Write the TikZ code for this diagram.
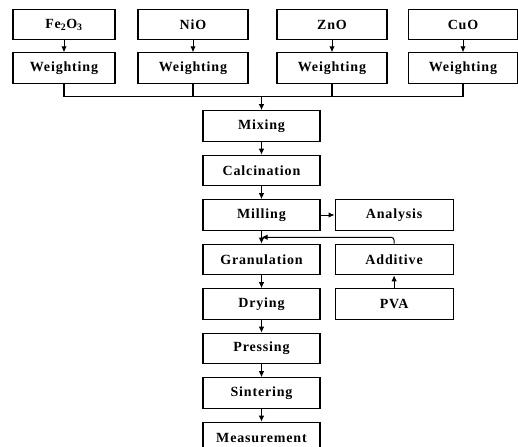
\documentclass[tikz,border=0pt]{standalone}
\usepackage{fontspec}
\setmainfont{Liberation Serif}[LetterSpace=6]
\usetikzlibrary{arrows.meta,positioning,calc}

\begin{document}
\begin{tikzpicture}[x=1pt,y=1pt,font=\bfseries\fontsize{14}{16}\selectfont, node distance=12.9pt and 14pt,
 proc/.style={draw,line width=1.1pt,minimum width=117pt,minimum height=30.5pt,inner sep=1pt},
 side/.style={proc,minimum width=118pt},
 link/.style={line width=1pt},
 >={Latex[length=6pt,width=5.5pt]}]
\useasboundingbox (0,0) rectangle (518,-446);
% raw oxides
\node[proc,minimum width=102pt] (fe) at (64,-24.5) {Fe\textsubscript{2}O\textsubscript{3}};
\node[proc,minimum width=110pt] (ni) at (193,-24.5) {NiO};
\node[proc,minimum width=110pt] (zn) at (332,-24.5) {ZnO};
\node[proc,minimum width=109pt] (cu) at (463,-24.5) {CuO};
\foreach \m/\w in {fe/102,ni/110,zn/110,cu/109}{
 \node[proc,minimum width=\w pt,below=12pt of \m] (w\m) {Weighting};
 \draw[link,->] (\m) -- (w\m);
}
% main line
\node[proc] (mix) at (261.5,-126) {Mixing};
\node[proc,below=of mix] (calc) {Calcination};
\node[proc,below=of calc] (mill) {Milling};
\node[proc,below=of mill] (gran) {Granulation};
\node[proc,below=of gran] (dry) {Drying};
\node[proc,below=of dry] (press) {Pressing};
\node[proc,below=of press] (sint) {Sintering};
\node[proc,below=of sint] (meas) {Measurement};
\foreach \a/\b in {mix/calc,calc/mill,mill/gran,gran/dry,dry/press,press/sint,sint/meas}
 \draw[link,->] (\a) -- (\b);
% side branch
\node[side,right=of mill] (ana) {Analysis};
\node[side,right=of gran] (add) {Additive};
\node[side,right=of dry] (pva) {PVA};
\draw[link,->] (mill) -- (ana);
\draw[link,->] (pva) -- (add);
\draw[link,->,rounded corners=3pt] (add.north) |- ($(mill.south)!0.5!(gran.north)$);
% collecting bus
\coordinate (bus) at ($(mix.north)+(0,14)$);
\draw[line width=1.2pt] (wfe.south) |- (wcu.south |- bus) -- (wcu.south);
\foreach \m in {wni,wzn}
 \draw[line width=1.2pt] (\m.south) -- (\m.south |- bus);
\draw[link,->] (bus) -- (mix);
\end{tikzpicture}
\end{document}
